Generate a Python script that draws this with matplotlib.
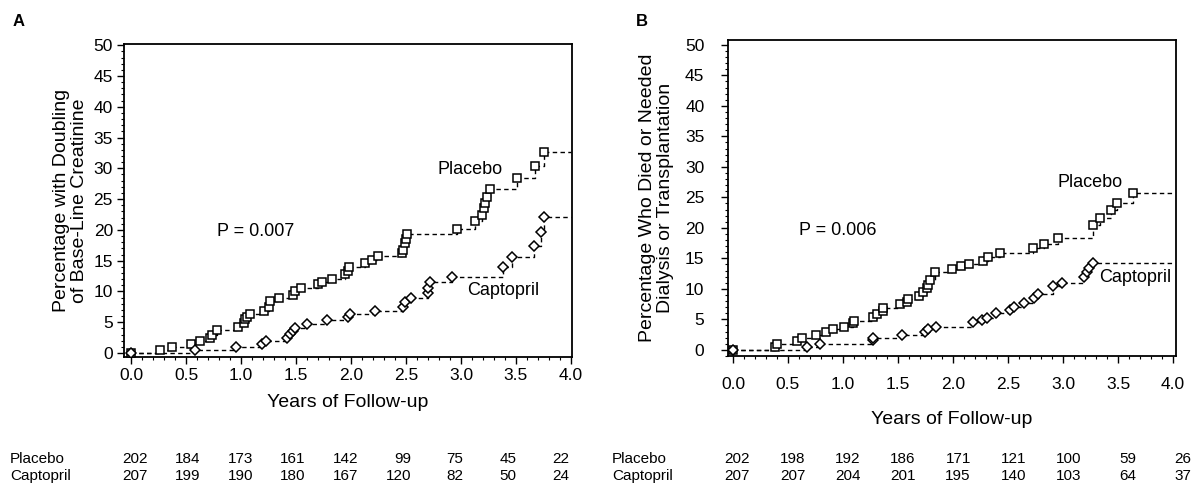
import matplotlib
matplotlib.use("Agg")
import matplotlib.pyplot as plt
from matplotlib.ticker import MultipleLocator, FormatStrFormatter

plt.rcParams['font.family'] = ['Liberation Sans', 'DejaVu Sans']

# ---------------- data ----------------
years_ticks = [0.0, 0.5, 1.0, 1.5, 2.0, 2.5, 3.0, 3.5, 4.0]

# Panel A: doubling of base-line creatinine
a_placebo_t = [0.0, 0.26, 0.375, 0.545, 0.63, 0.72, 0.735, 0.78, 0.975, 1.03, 1.04, 1.05,
               1.08, 1.21, 1.255, 1.265, 1.35, 1.475, 1.49, 1.545, 1.70, 1.74, 1.83, 1.945,
               1.975, 1.985, 2.13, 2.19, 2.25, 2.46, 2.475, 2.49, 2.50, 2.51, 2.96, 3.13,
               3.19, 3.21, 3.22, 3.24, 3.26, 3.51, 3.67, 3.755]
a_placebo_v = [0.0, 0.5, 1.0, 1.5, 2.0, 2.5, 3.0, 3.7, 4.2, 4.8, 5.5, 5.9,
               6.3, 6.9, 7.4, 8.4, 8.9, 9.4, 10.0, 10.6, 11.2, 11.6, 12.1, 12.8,
               13.4, 14.0, 14.6, 15.1, 15.7, 16.2, 16.8, 17.8, 18.6, 19.4, 20.2, 21.5,
               22.5, 23.5, 24.4, 25.4, 26.7, 28.5, 30.4, 32.6]
a_captopril_t = [0.0, 0.58, 0.955, 1.19, 1.23, 1.415, 1.445, 1.475, 1.49, 1.60, 1.785, 1.975,
                 1.99, 2.22, 2.475, 2.49, 2.55, 2.70, 2.705, 2.72, 2.915, 3.385, 3.46, 3.66,
                 3.73, 3.755]
a_captopril_v = [0.0, 0.5, 1.0, 1.5, 2.0, 2.5, 3.1, 3.6, 4.0, 4.7, 5.4, 5.8,
                 6.3, 6.8, 7.5, 8.3, 9.0, 9.7, 10.5, 11.5, 12.4, 14.0, 15.6, 17.4,
                 19.7, 22.1]

# Panel B: death, dialysis or transplantation
b_placebo_t = [0.0, 0.38, 0.40, 0.585, 0.63, 0.755, 0.845, 0.905, 1.01, 1.09, 1.10, 1.275,
               1.305, 1.36, 1.365, 1.52, 1.58, 1.59, 1.69, 1.73, 1.76, 1.775, 1.79, 1.835,
               1.99, 2.07, 2.15, 2.27, 2.32, 2.43, 2.73, 2.83, 2.95, 3.275, 3.34, 3.44,
               3.49, 3.64]
b_placebo_v = [0.0, 0.55, 1.0, 1.5, 2.0, 2.5, 2.9, 3.4, 3.8, 4.4, 4.8, 5.4,
               5.9, 6.4, 6.9, 7.5, 7.9, 8.3, 8.9, 9.5, 10.2, 10.7, 11.4, 12.7,
               13.3, 13.7, 14.1, 14.6, 15.2, 15.9, 16.7, 17.3, 18.3, 20.5, 21.6, 23.0,
               24.1, 25.8]
b_captopril_t = [0.0, 0.675, 0.79, 1.27, 1.275, 1.535, 1.745, 1.775, 1.85, 2.18, 2.26, 2.31,
                 2.39, 2.52, 2.555, 2.645, 2.74, 2.775, 2.91, 2.99, 3.19, 3.215, 3.24, 3.27]
b_captopril_v = [0.0, 0.55, 1.0, 1.6, 2.0, 2.5, 2.9, 3.4, 3.8, 4.5, 4.9, 5.3,
                 6.0, 6.6, 7.1, 7.7, 8.5, 9.2, 10.4, 11.0, 12.0, 12.8, 13.5, 14.3]

a_risk_placebo = [202, 184, 173, 161, 142, 99, 75, 45, 22]
a_risk_captopril = [207, 199, 190, 180, 167, 120, 82, 50, 24]
b_risk_placebo = [202, 198, 192, 186, 171, 121, 100, 59, 26]
b_risk_captopril = [207, 207, 204, 201, 195, 140, 103, 64, 37]

# ---------------- figure ----------------
W, H = 1196, 488
fig = plt.figure(figsize=(W / 100, H / 100), dpi=100)


def px_axes(l, t, r, b):
    return fig.add_axes([l / W, 1 - b / H, (r - l) / W, (b - t) / H])


def curve(ax, t, v, marker, ms, xend):
    ax.plot(list(t) + [xend], list(v) + [v[-1]], drawstyle='steps-post',
            color='black', lw=1.0, dashes=(3.2, 2.4), zorder=2)
    ax.plot(t, v, linestyle='none', marker=marker, ms=ms, mfc='white',
            mec='black', mew=1.1, zorder=3)


def style(ax, xlim, ylim, ylabel, tickpad_x, tickpad_y, xlabelpad, ylabelpad):
    ax.set_xlim(*xlim)
    ax.set_ylim(*ylim)
    ax.set_xticks(years_ticks)
    ax.xaxis.set_major_formatter(FormatStrFormatter('%.1f'))
    ax.xaxis.set_minor_locator(MultipleLocator(0.1))
    ax.set_yticks(range(0, 51, 5))
    ax.yaxis.set_minor_locator(MultipleLocator(1))
    ax.tick_params(axis='both', which='major', direction='out', length=5, width=1,
                   labelsize=12.5)
    ax.tick_params(axis='both', which='minor', direction='out', length=2.5, width=0.8)
    ax.tick_params(axis='x', which='major', pad=tickpad_x)
    ax.tick_params(axis='y', which='major', pad=tickpad_y)
    for s in ax.spines.values():
        s.set_linewidth(1.3)
    ax.set_xlabel('Years of Follow-up', fontsize=14, labelpad=xlabelpad)
    ax.set_ylabel(ylabel, fontsize=14, labelpad=ylabelpad, linespacing=1.05)


SQ_MS, DI_MS = 5.6, 5.0

# Panel A
axA = px_axes(124, 44, 572, 357)
curve(axA, a_placebo_t, a_placebo_v, 's', SQ_MS, 4.0)
curve(axA, a_captopril_t, a_captopril_v, 'D', DI_MS, 4.0)
style(axA, (-0.064, 4.01), (-0.65, 50.2),
      'Percentage with Doubling\nof Base-Line Creatinine', 3, 3, 8, 4)
axA.text(1.13, 19.7, 'P = 0.007', fontsize=13, ha='center', va='center')
axA.text(3.08, 29.8, 'Placebo', fontsize=13, ha='center', va='center')
axA.text(3.38, 10.2, 'Captopril', fontsize=13, ha='center', va='center')
fig.text(13 / W, 1 - 21 / H, 'A', fontsize=12, fontweight='bold', va='center')

# Panel B
axB = px_axes(728, 40, 1176, 356)
curve(axB, b_placebo_t, b_placebo_v, 's', SQ_MS, 4.0)
curve(axB, b_captopril_t, b_captopril_v, 'D', DI_MS, 4.0)
style(axB, (-0.045, 4.027), (-1.0, 50.8),
      'Percentage Who Died or Needed\nDialysis or Transplantation', 10, 12, 14, 8)
axB.text(0.955, 19.5, 'P = 0.006', fontsize=13, ha='center', va='center')
axB.text(3.245, 27.4, 'Placebo', fontsize=13, ha='center', va='center')
axB.text(3.66, 11.8, 'Captopril', fontsize=13, ha='center', va='center')
fig.text(636 / W, 1 - 21 / H, 'B', fontsize=12, fontweight='bold', va='center')

# Number-at-risk tables
def risk_table(label_x, first_right, step, rows):
    for (name, vals), y in zip(rows, (459, 476)):
        fig.text(label_x / W, 1 - y / H, name, fontsize=11, ha='left', va='center')
        for i, n in enumerate(vals):
            fig.text((first_right + i * step) / W, 1 - y / H, str(n), fontsize=11,
                     ha='right', va='center')


risk_table(10, 148, 52.6, [('Placebo', a_risk_placebo), ('Captopril', a_risk_captopril)])
risk_table(612, 750, 55.2, [('Placebo', b_risk_placebo), ('Captopril', b_risk_captopril)])

fig.savefig('out.png', dpi=100)
